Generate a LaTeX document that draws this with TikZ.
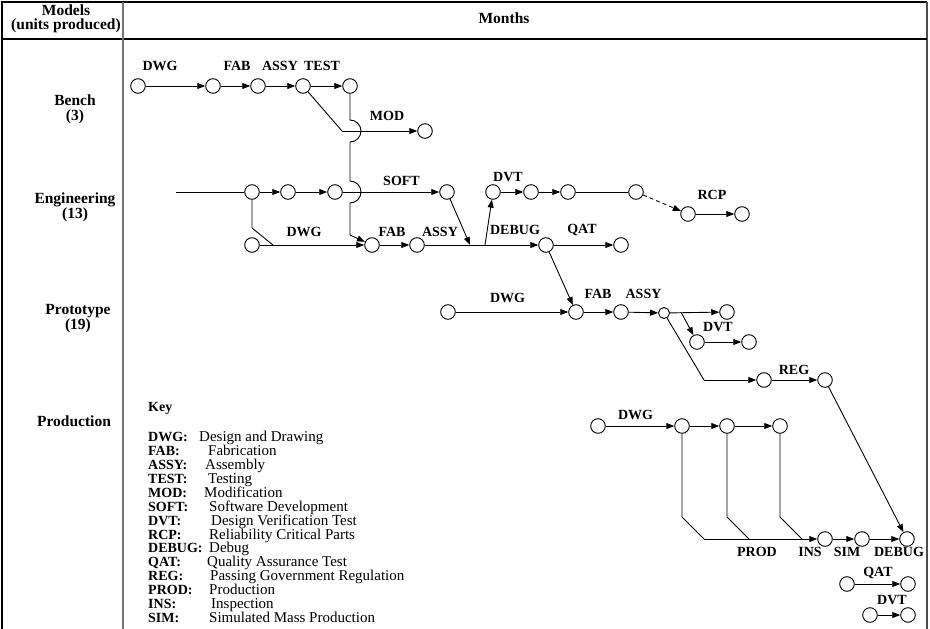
\documentclass[tikz,border=0pt]{standalone}
\usepackage{fontspec}
\setmainfont{Liberation Serif}
\usetikzlibrary{arrows.meta}

\begin{document}
\begin{tikzpicture}[x=1pt,y=-1pt,
  ev/.style={draw,circle,inner sep=0pt,minimum size=14.6pt,line width=0.9pt},
  evsmall/.style={ev,minimum size=11pt},
  act/.style={line width=0.9pt},
  go/.style={act,-{Triangle[length=8pt,width=6pt]}},
  lbl/.style={font=\fontsize{14}{14}\selectfont\bfseries,inner sep=0pt},
  rowlbl/.style={font=\fontsize{15.5}{13}\selectfont\bfseries,align=center,inner sep=0pt},
  keylbl/.style={font=\fontsize{14}{14}\selectfont\bfseries,inner sep=0pt,anchor=base west},
  keytxt/.style={font=\fontsize{15}{15}\selectfont,inner sep=0pt,anchor=base west}]
  \useasboundingbox (0,0) rectangle (930,629);
  \draw[line width=1.3pt] (2,629) -- (2,2) -- (927,2);
  \draw[black!70,line width=1.1pt] (927,2) -- (927,629);
  \draw[line width=1.2pt] (2,39) -- (927,39);
  \draw[black!55,line width=2pt] (122.5,2) -- (122.5,629);
  \node[rowlbl,font=\fontsize{15.5}{14}\selectfont\bfseries] (hmod) at (66,19) {Models\\(units produced)};
  \node[rowlbl] (hmon) at (504,18.5) {Months};
  \node[rowlbl,font=\fontsize{15.5}{14.5}\selectfont\bfseries] (rbench) at (75,109.5) {Bench\\(3)};
  \node[rowlbl,font=\fontsize{15.5}{12}\selectfont\bfseries] (reng) at (75,207) {Engineering\\(13)};
  \node[rowlbl,font=\fontsize{15.5}{12}\selectfont\bfseries] (rproto) at (78,319) {Prototype\\(19)};
  \node[rowlbl] (rprod) at (74,421) {Production};
  % bench
  \node[ev] (b1) at (138,86) {};
  \node[ev] (b2) at (213,86) {};
  \node[ev] (b3) at (258,86) {};
  \node[ev] (b4) at (303,86) {};
  \node[ev] (b5) at (350,86) {};
  \node[ev] (b6) at (425,131) {};
  \coordinate (bk) at (342,131);
  \draw[go] (b1) -- (b2);
  \draw[go] (b2) -- (b3);
  \draw[go] (b3) -- (b4);
  \draw[go] (b4) -- (b5);
  \draw[act] (b4) -- (bk);
  \draw[go] (bk) -- (b6);
  \node[lbl] (lb1) at (160,65.5) {DWG};
  \node[lbl] (lb2) at (237,65.5) {FAB};
  \node[lbl] (lb3) at (280,65.5) {ASSY};
  \node[lbl] (lb4) at (322,65.5) {TEST};
  \node[lbl] (lb5) at (387,115.5) {MOD};
  % engineering
  \coordinate (e0) at (176,192);
  \node[ev] (e1) at (252,192) {};
  \node[ev] (e2) at (288,192) {};
  \node[ev] (e3) at (335,192) {};
  \node[ev] (e4) at (447,192) {};
  \node[ev] (e5) at (493,192) {};
  \node[ev] (e6) at (531,192) {};
  \node[ev] (e7) at (568,192) {};
  \node[ev] (e8) at (636,192) {};
  \node[ev] (e9) at (688,214) {};
  \node[ev] (e10) at (742,214) {};
  \node[ev] (e11) at (252,245) {};
  \node[ev] (e12) at (372,245) {};
  \node[ev] (e13) at (417,245) {};
  \node[ev] (e14) at (546,245) {};
  \node[ev] (e15) at (621,245) {};
  \coordinate (ek) at (273,245);
  \coordinate (ej1) at (470,245);
  \coordinate (ej2) at (485,245);
  \draw[go] (b5) -- (350,120) arc[start angle=-90,end angle=90,radius=11]
    -- (350,181) arc[start angle=-90,end angle=90,radius=11] -- (350,235) -- (e12);
  \draw[act] (e0) -- (e1);
  \draw[go] (e1) -- (e2);
  \draw[go] (e2) -- (e3);
  \draw[go] (e3) -- (e4);
  \draw[go] (e4) -- (ej1);
  \draw[go] (ej2) -- (e5);
  \draw[go] (e5) -- (e6);
  \draw[go] (e6) -- (e7);
  \draw[act] (e7) -- (e8);
  \draw[go,dash pattern=on 4pt off 3pt] (e8) -- (e9);
  \draw[go] (e9) -- (e10);
  \draw[act] (e1) -- (252,228) -- (ek);
  \draw[go] (e11) -- (e12);
  \draw[go] (e12) -- (e13);
  \draw[go] (e13) -- (e14);
  \draw[go] (e14) -- (e15);
  \node[lbl] (le1) at (401.5,181) {SOFT};
  \node[lbl] (le2) at (304,232) {DWG};
  \node[lbl] (le3) at (392,232) {FAB};
  \node[lbl] (le4) at (440,232) {ASSY};
  \node[lbl] (le5) at (508,177) {DVT};
  \node[lbl] (le6) at (515,230) {DEBUG};
  \node[lbl] (le7) at (582,230) {QAT};
  \node[lbl] (le8) at (712,195) {RCP};
  % prototype
  \node[ev] (p1) at (448,312) {};
  \node[ev] (p2) at (576,312) {};
  \node[ev] (p3) at (621,312) {};
  \node[evsmall] (p4) at (664,313) {};
  \node[ev] (p5) at (727,312) {};
  \node[ev] (p6) at (697,342) {};
  \node[ev] (p7) at (749,342) {};
  \node[ev] (p8) at (764,380) {};
  \node[ev] (p9) at (825,380) {};
  \coordinate (pk1) at (681,312);
  \coordinate (pk2) at (704,380);
  \draw[go] (e14) -- (p2);
  \draw[go] (p1) -- (p2);
  \draw[go] (p2) -- (p3);
  \draw[go] (p3) -- (p4);
  \draw[go] (p4) -- (p5);
  \draw[go] (pk1) -- (p6);
  \draw[go] (p6) -- (p7);
  \draw[act] (p4) -- (pk2);
  \draw[go] (pk2) -- (p8);
  \draw[go] (p8) -- (p9);
  \node[lbl] (lp1) at (507.5,298) {DWG};
  \node[lbl] (lp2) at (598,293.5) {FAB};
  \node[lbl] (lp3) at (643.5,293.5) {ASSY};
  \node[lbl] (lp4) at (718,327.5) {DVT};
  \node[lbl] (lp5) at (794,369.5) {REG};
  % production
  \node[ev] (q1) at (598,426) {};
  \node[ev] (q2) at (682,426) {};
  \node[ev] (q3) at (727,426) {};
  \node[ev] (q4) at (780,426) {};
  \node[ev] (q5) at (825,539) {};
  \node[ev] (q6) at (862,539) {};
  \node[ev] (q7) at (907,539) {};
  \node[ev] (r1) at (847,584) {};
  \node[ev] (r2) at (908,584) {};
  \node[ev] (r3) at (870,615) {};
  \node[ev] (r4) at (908,615) {};
  \coordinate (qk1) at (704,539);
  \coordinate (qk2) at (749,539);
  \coordinate (qk3) at (802,539);
  \draw[go] (p9) -- (q7);
  \draw[go] (q1) -- (q2);
  \draw[go] (q2) -- (q3);
  \draw[go] (q3) -- (q4);
  \draw[act] (q2) -- (682,517) -- (qk1);
  \draw[act] (q3) -- (727,517) -- (qk2);
  \draw[act] (q4) -- (780,517) -- (qk3);
  \draw[go] (qk1) -- (q5);
  \draw[go] (q5) -- (q6);
  \draw[go] (q6) -- (q7);
  \draw[go] (r1) -- (r2);
  \draw[go] (r3) -- (r4);
  \node[lbl] (lq1) at (635.5,415) {DWG};
  \node[lbl] (lq2) at (757,552) {PROD};
  \node[lbl] (lq3) at (810,552) {INS};
  \node[lbl] (lq4) at (847,552) {SIM};
  \node[lbl] (lq5) at (899,552) {DEBUG};
  \node[lbl] (lq6) at (878,573) {QAT};
  \node[lbl] (lq7) at (892,600) {DVT};
  % key
  \node[keylbl] (key) at (148,411.7) {Key};
  \foreach \k/\d/\xd [count=\i from 0] in {DWG/Design and Drawing/199,FAB/Fabrication/208,
    ASSY/Assembly/205,TEST/Testing/208,MOD/Modification/204,SOFT/Software Development/209,
    DVT/Design Verification Test/211,RCP/Reliability Critical Parts/209,DEBUG/Debug/209,
    QAT/Quality Assurance Test/207,REG/Passing Government Regulation/210,PROD/Production/209,
    INS/Inspection/211,SIM/Simulated Mass Production/209}{
    \node[keylbl] (k\i) at (148,{441.7+13.9*\i}) {\k:};
    \node[keytxt] (kd\i) at (\xd,{441.7+13.9*\i}) {\d};
  }
\end{tikzpicture}
\end{document}
